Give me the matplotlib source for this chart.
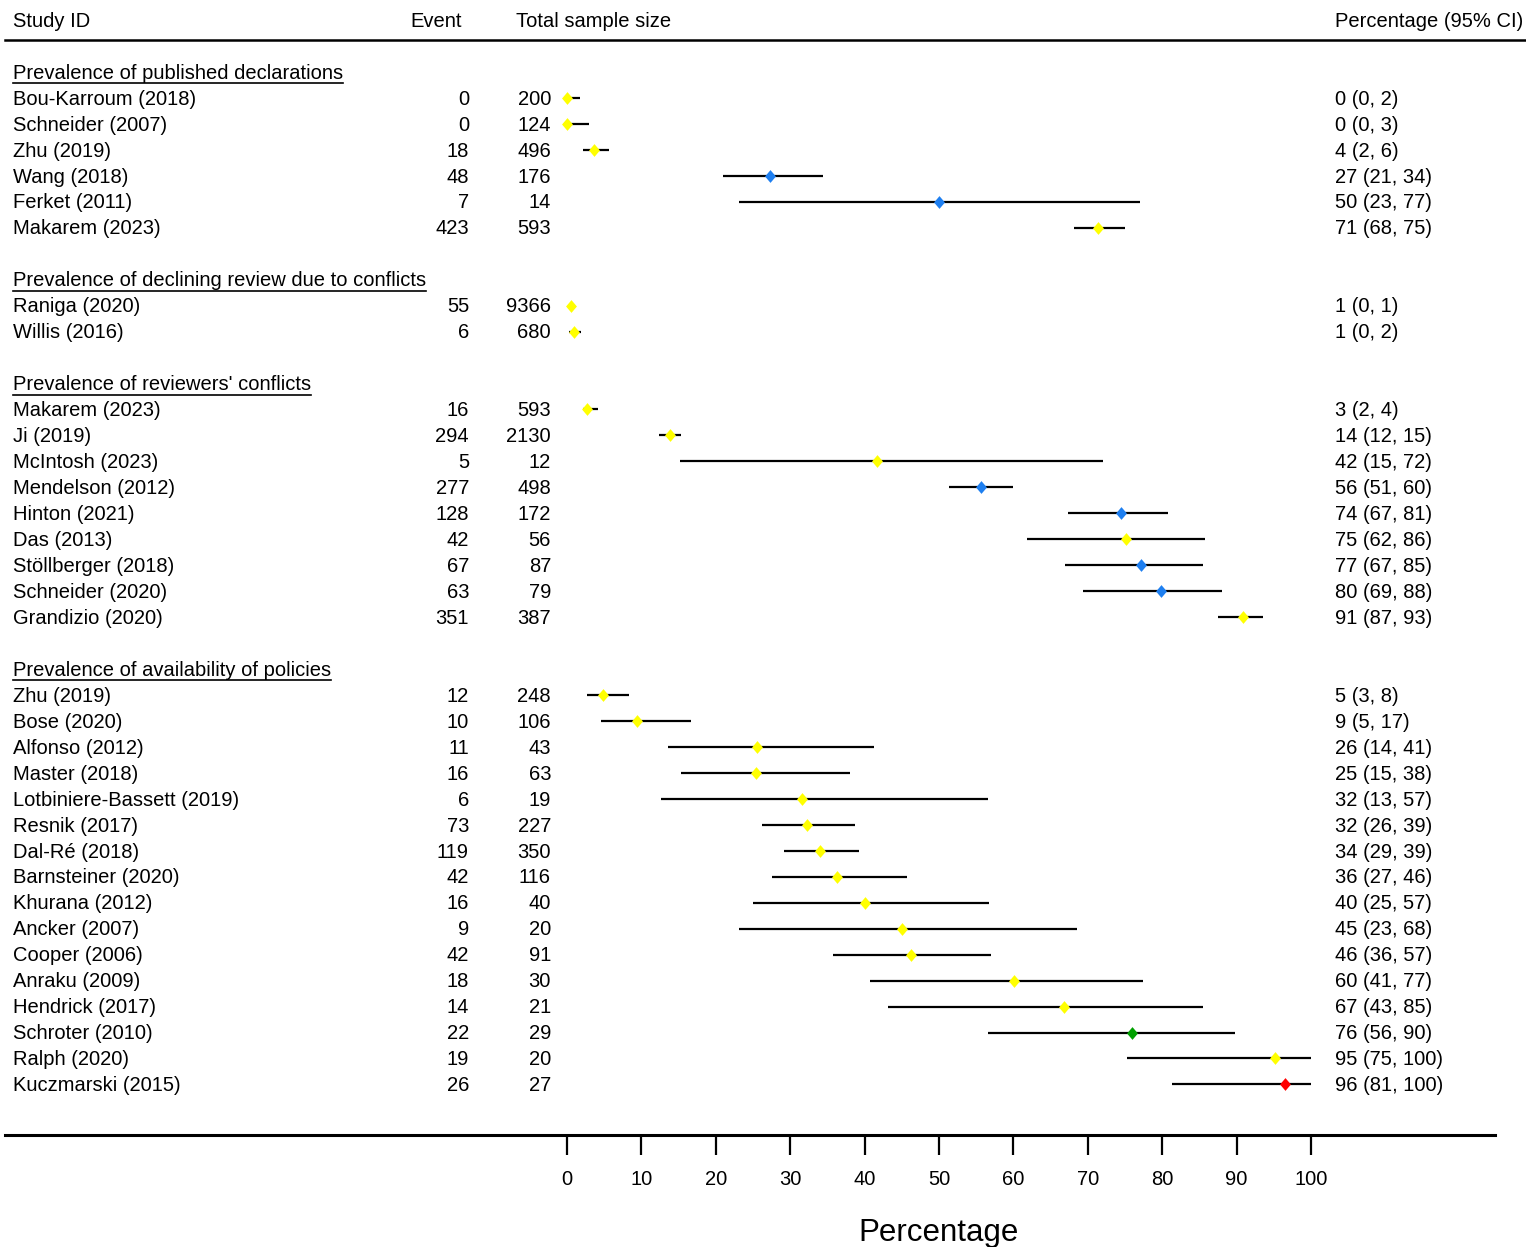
import matplotlib
matplotlib.use("Agg")
import matplotlib.pyplot as plt
import matplotlib.transforms as mtransforms
from matplotlib.lines import Line2D

plt.rcParams['font.family'] = ['Liberation Sans', 'DejaVu Sans']

# ---------------- data ----------------
group_titles = [
    "Prevalence of published declarations",
    "Prevalence of declining review due to conflicts",
    "Prevalence of reviewers' conflicts",
    "Prevalence of availability of policies",
]

g1_study = ["Bou-Karroum (2018)", "Schneider (2007)", "Zhu (2019)", "Wang (2018)",
            "Ferket (2011)", "Makarem (2023)"]
g1_event = [0, 0, 18, 48, 7, 423]
g1_total = [200, 124, 496, 176, 14, 593]
g1_est = [0.0, 0.0, 3.6, 27.3, 50.0, 71.4]
g1_lo = [0.0, 0.0, 2.2, 21.0, 23.1, 68.1]
g1_hi = [1.8, 2.9, 5.7, 34.4, 77.0, 75.0]
g1_ci = ["0 (0, 2)", "0 (0, 3)", "4 (2, 6)", "27 (21, 34)", "50 (23, 77)", "71 (68, 75)"]
g1_col = ["yellow", "yellow", "yellow", "blue", "blue", "yellow"]

g2_study = ["Raniga (2020)", "Willis (2016)"]
g2_event = [55, 6]
g2_total = [9366, 680]
g2_est = [0.6, 0.9]
g2_lo = [0.45, 0.3]
g2_hi = [0.76, 1.9]
g2_ci = ["1 (0, 1)", "1 (0, 2)"]
g2_col = ["yellow", "yellow"]

g3_study = ["Makarem (2023)", "Ji (2019)", "McIntosh (2023)", "Mendelson (2012)",
            "Hinton (2021)", "Das (2013)", "Stöllberger (2018)", "Schneider (2020)",
            "Grandizio (2020)"]
g3_event = [16, 294, 5, 277, 128, 42, 67, 63, 351]
g3_total = [593, 2130, 12, 498, 172, 56, 87, 79, 387]
g3_est = [2.7, 13.8, 41.7, 55.6, 74.5, 75.1, 77.2, 79.8, 90.9]
g3_lo = [2.1, 12.4, 15.2, 51.3, 67.3, 61.8, 66.9, 69.4, 87.5]
g3_hi = [4.1, 15.3, 72.0, 59.9, 80.8, 85.8, 85.5, 88.0, 93.5]
g3_ci = ["3 (2, 4)", "14 (12, 15)", "42 (15, 72)", "56 (51, 60)", "74 (67, 81)",
         "75 (62, 86)", "77 (67, 85)", "80 (69, 88)", "91 (87, 93)"]
g3_col = ["yellow", "yellow", "yellow", "blue", "blue", "yellow", "blue", "blue", "yellow"]

g4_study = ["Zhu (2019)", "Bose (2020)", "Alfonso (2012)", "Master (2018)",
            "Lotbiniere-Bassett (2019)", "Resnik (2017)", "Dal-Ré (2018)",
            "Barnsteiner (2020)", "Khurana (2012)", "Ancker (2007)", "Cooper (2006)",
            "Anraku (2009)", "Hendrick (2017)", "Schroter (2010)", "Ralph (2020)",
            "Kuczmarski (2015)"]
g4_event = [12, 10, 11, 16, 6, 73, 119, 42, 16, 9, 42, 18, 14, 22, 19, 26]
g4_total = [248, 106, 43, 63, 19, 227, 350, 116, 40, 20, 91, 30, 21, 29, 20, 27]
g4_est = [4.8, 9.4, 25.5, 25.4, 31.6, 32.3, 34.0, 36.3, 40.1, 45.0, 46.2, 60.1,
          66.8, 75.9, 95.2, 96.5]
g4_lo = [2.7, 4.6, 13.6, 15.3, 12.6, 26.2, 29.2, 27.6, 25.0, 23.1, 35.8, 40.7,
         43.1, 56.6, 75.3, 81.3]
g4_hi = [8.3, 16.7, 41.3, 38.0, 56.6, 38.7, 39.2, 45.7, 56.7, 68.5, 57.0, 77.4,
         85.5, 89.8, 100.0, 100.0]
g4_ci = ["5 (3, 8)", "9 (5, 17)", "26 (14, 41)", "25 (15, 38)", "32 (13, 57)",
         "32 (26, 39)", "34 (29, 39)", "36 (27, 46)", "40 (25, 57)", "45 (23, 68)",
         "46 (36, 57)", "60 (41, 77)", "67 (43, 85)", "76 (56, 90)", "95 (75, 100)",
         "96 (81, 100)"]
g4_col = ["yellow"] * 13 + ["green", "yellow", "red"]

x_ticks = [0, 10, 20, 30, 40, 50, 60, 70, 80, 90, 100]
headers = ["Study ID", "Event", "Total sample size", "Percentage (95% CI)"]

groups = [
    (g1_study, g1_event, g1_total, g1_est, g1_lo, g1_hi, g1_ci, g1_col),
    (g2_study, g2_event, g2_total, g2_est, g2_lo, g2_hi, g2_ci, g2_col),
    (g3_study, g3_event, g3_total, g3_est, g3_lo, g3_hi, g3_ci, g3_col),
    (g4_study, g4_event, g4_total, g4_est, g4_lo, g4_hi, g4_ci, g4_col),
]

color_map = {"yellow": "#FFFF00", "blue": "#1E7FF0", "green": "#00A000", "red": "#FF0000"}

# ---------------- layout ----------------
W, H = 1526, 1247
fig = plt.figure(figsize=(W / 100, H / 100), dpi=100)
fig.patch.set_facecolor("white")

ax_left, ax_right = 567, 1311
ax_top, ax_bot = 40, 1135
row0_px = 72.0
row_step = 25.96
ax = fig.add_axes([ax_left / W, 1 - ax_bot / H, (ax_right - ax_left) / W, (ax_bot - ax_top) / H])
ax.set_xlim(0, 100)
ax.set_ylim((ax_bot - row0_px) / row_step, (ax_top - row0_px) / row_step)
for s in ax.spines.values():
    s.set_visible(False)
ax.set_yticks([])
ax.set_xticks(x_ticks)
ax.tick_params(axis='x', direction='out', length=14.4, width=1.6, pad=11, labelsize=14.5,
               colors='black')
ax.set_xlabel("Percentage", fontsize=22.5, labelpad=21)
ax.patch.set_alpha(0)

trans = mtransforms.blended_transform_factory(fig.transFigure, ax.transData)

FS = 14.5
x_study = 13 / W
x_event = 469 / W
x_total = 551 / W
x_ci = 1335 / W
dy = 1.2 / row_step  # small downward nudge of text relative to marks

# headers
hdr_row = (20 - row0_px) / row_step + dy
ax.text(x_study, hdr_row, headers[0], transform=trans, ha='left', va='center', fontsize=FS)
ax.text(410 / W, hdr_row, headers[1], transform=trans, ha='left', va='center', fontsize=FS)
ax.text(516 / W, hdr_row, headers[2], transform=trans, ha='left', va='center', fontsize=FS)
ax.text(x_ci, hdr_row, headers[3], transform=trans, ha='left', va='center', fontsize=FS)

diamond = [(0, 1), (0.85, 0), (0, -1), (-0.85, 0)]

title_texts = []
row = 0
for gi, (study, event, total, est, lo, hi, ci, col) in enumerate(groups):
    t = ax.text(x_study, row + dy, group_titles[gi], transform=trans, ha='left', va='center',
                fontsize=FS)
    title_texts.append(t)
    row += 1
    for i in range(len(study)):
        ty = row + dy
        ax.text(x_study, ty, study[i], transform=trans, ha='left', va='center', fontsize=FS)
        ax.text(x_event, ty, str(event[i]), transform=trans, ha='right', va='center', fontsize=FS)
        ax.text(x_total, ty, str(total[i]), transform=trans, ha='right', va='center', fontsize=FS)
        ax.text(x_ci, ty, ci[i], transform=trans, ha='left', va='center', fontsize=FS)
        ax.plot([lo[i], hi[i]], [row, row], color='black', lw=1.6, clip_on=False,
                solid_capstyle='butt', zorder=2)
        ax.plot([est[i]], [row], marker=diamond, markersize=9.2,
                color=color_map[col[i]], markeredgewidth=0,
                clip_on=False, zorder=3)
        row += 1
    row += 1

# horizontal rules
fig.add_artist(Line2D([5 / W, 1.0], [1 - 40 / H, 1 - 40 / H], color='black', lw=1.8,
                      transform=fig.transFigure))
fig.add_artist(Line2D([5 / W, 1495 / W], [1 - ax_bot / H, 1 - ax_bot / H], color='black',
                      lw=2.2, transform=fig.transFigure))

# underline group titles
fig.canvas.draw()
renderer = fig.canvas.get_renderer()
for t in title_texts:
    bb = t.get_window_extent(renderer)
    y = (bb.y0 - 0.5) / H
    fig.add_artist(Line2D([bb.x0 / W, bb.x1 / W], [y, y], color='black', lw=1.2,
                          transform=fig.transFigure))

fig.savefig("out.png", dpi=100, facecolor='white')
